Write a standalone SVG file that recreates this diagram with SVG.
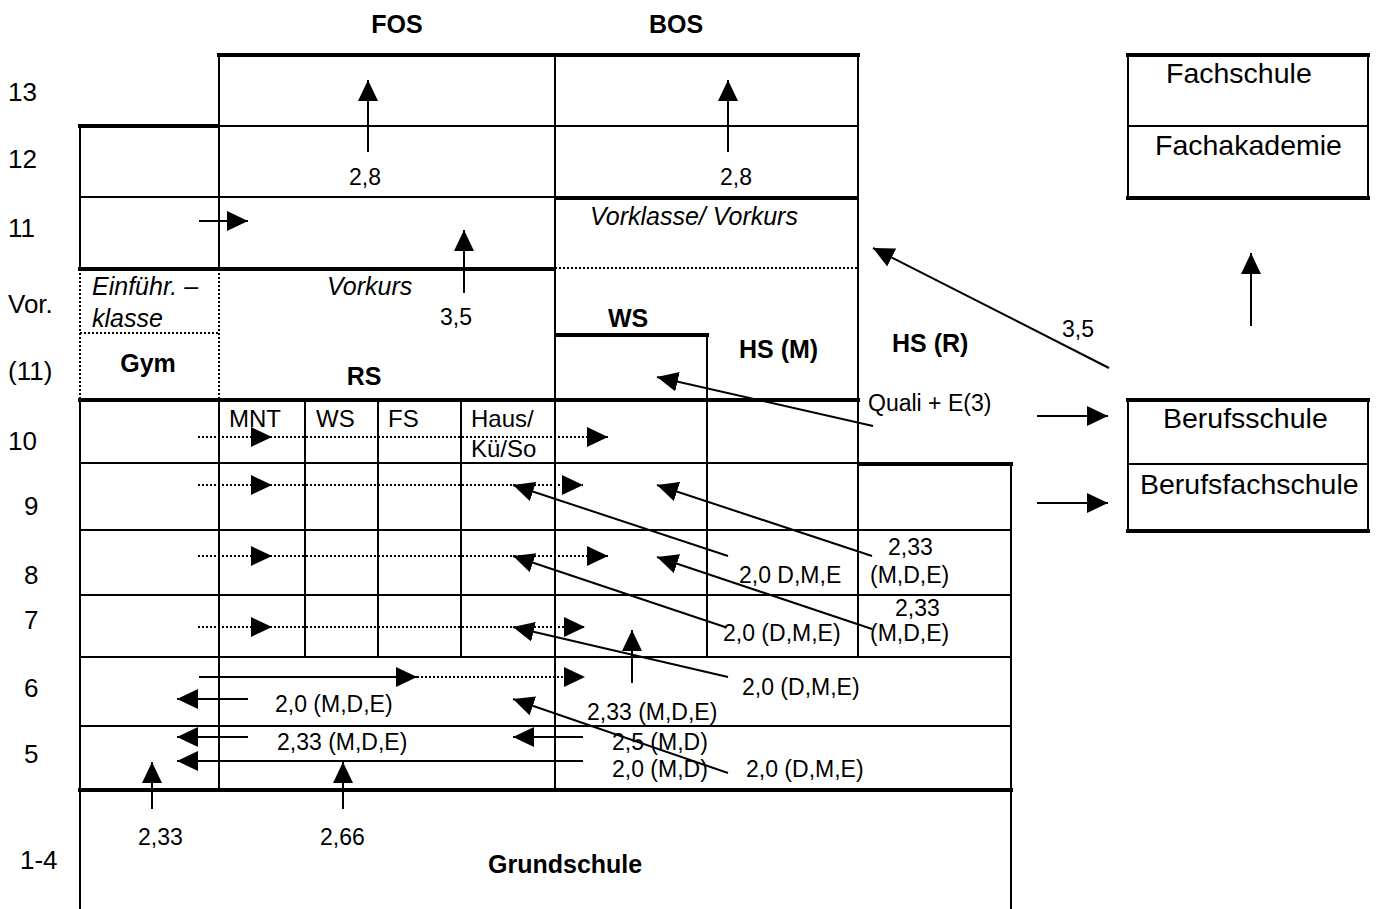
<svg xmlns="http://www.w3.org/2000/svg" width="1380" height="909" viewBox="0 0 1380 909">
<defs>
<marker id="ah" markerUnits="userSpaceOnUse" markerWidth="22" markerHeight="20" refX="21" refY="10" orient="auto" viewBox="0 0 22 20">
<path d="M0,0 L21,10 L0,20 Z" fill="#000"/>
</marker>
</defs>
<style>
text{font-family:"Liberation Sans",Arial,sans-serif;fill:#000}
.row{font-size:26px}
.lbl{font-size:23px}
.cell{font-size:24px}
.big{font-size:28.5px}
.it{font-size:25px;font-style:italic}
.b{font-size:25px;font-weight:bold}
.thin{stroke:#000;stroke-width:2;fill:none}
.thick{stroke:#000;stroke-width:4;fill:none}
.dot{stroke:#000;stroke-width:2;stroke-dasharray:2,2;fill:none}
.arr{stroke:#000;stroke-width:2;fill:none;marker-end:url(#ah)}
.arrd{stroke:#000;stroke-width:2;stroke-dasharray:2,2;fill:none;marker-mid:url(#ah);marker-end:url(#ah)}
.arrd1{stroke:#000;stroke-width:2;stroke-dasharray:2,2;fill:none;marker-end:url(#ah)}
</style>
<rect width="1380" height="909" fill="#fff"/>

<g id="grid">
<line class="thick" x1="217" y1="55" x2="860" y2="55"/>
<line class="thick" x1="78" y1="126" x2="219" y2="126"/>
<line class="thin" x1="219" y1="126" x2="858" y2="126"/>
<line class="thin" x1="80" y1="197" x2="555" y2="197"/>
<line class="thick" x1="555" y1="198" x2="858" y2="198"/>
<line class="thick" x1="78" y1="269" x2="555" y2="269"/>
<line class="dot" x1="555" y1="268" x2="858" y2="268"/>
<line class="dot" x1="80" y1="333" x2="219" y2="333"/>
<line class="thick" x1="555" y1="335" x2="709" y2="335"/>
<line class="thick" x1="78" y1="400" x2="860" y2="400"/>
<line class="thin" x1="80" y1="463" x2="858" y2="463"/>
<line class="thick" x1="858" y1="464" x2="1013" y2="464"/>
<line class="thin" x1="80" y1="530" x2="1011" y2="530"/>
<line class="thin" x1="80" y1="595" x2="1011" y2="595"/>
<line class="thin" x1="80" y1="657" x2="1011" y2="657"/>
<line class="thin" x1="80" y1="726" x2="1011" y2="726"/>
<line class="thick" x1="78" y1="790" x2="1013" y2="790"/>
<line class="thin" x1="80" y1="126" x2="80" y2="269"/>
<line class="dot" x1="80" y1="269" x2="80" y2="400"/>
<line class="thin" x1="80" y1="400" x2="80" y2="909"/>
<line class="thin" x1="219" y1="55" x2="219" y2="269"/>
<line class="dot" x1="219" y1="269" x2="219" y2="400"/>
<line class="thin" x1="219" y1="400" x2="219" y2="790"/>
<line class="thin" x1="305" y1="400" x2="305" y2="657"/>
<line class="thin" x1="378" y1="400" x2="378" y2="657"/>
<line class="thin" x1="461" y1="400" x2="461" y2="657"/>
<line class="thin" x1="555" y1="55" x2="555" y2="790"/>
<line class="thin" x1="707" y1="335" x2="707" y2="657"/>
<line class="thin" x1="858" y1="55" x2="858" y2="657"/>
<line class="thin" x1="1011" y1="463" x2="1011" y2="909"/>
</g>

<g id="row-labels">
<text class="row" x="8" y="101">13</text>
<text class="row" x="8" y="168">12</text>
<text class="row" x="8" y="237">11</text>
<text class="row" x="8" y="313">Vor.</text>
<text class="row" x="8" y="380">(11)</text>
<text class="row" x="8" y="450">10</text>
<text class="row" x="24" y="515">9</text>
<text class="row" x="24" y="584">8</text>
<text class="row" x="24" y="629">7</text>
<text class="row" x="24" y="697">6</text>
<text class="row" x="24" y="763">5</text>
<text class="row" x="20" y="869">1-4</text>
</g>

<g id="node-fos"><text class="b" x="397" y="33" text-anchor="middle">FOS</text></g>
<g id="node-bos"><text class="b" x="676" y="33" text-anchor="middle">BOS</text></g>
<g id="node-vorklasse"><text class="it" x="590" y="225">Vorklasse/ Vorkurs</text></g>
<g id="node-einfuehr">
<text class="it" x="92" y="295">Einführ. –</text>
<text class="it" x="92" y="327">klasse</text>
</g>
<g id="node-vorkurs"><text class="it" x="327" y="295">Vorkurs</text></g>
<g id="node-gym"><text class="b" x="148" y="372" text-anchor="middle">Gym</text></g>
<g id="node-rs"><text class="b" x="364" y="385" text-anchor="middle">RS</text></g>
<g id="node-ws"><text class="b" x="608" y="327">WS</text></g>
<g id="node-hsm"><text class="b" x="739" y="358">HS (M)</text></g>
<g id="node-hsr"><text class="b" x="892" y="352">HS (R)</text></g>
<g id="node-subjects">
<text class="cell" x="229" y="427">MNT</text>
<text class="cell" x="316" y="427">WS</text>
<text class="cell" x="388" y="427">FS</text>
<text class="cell" x="471" y="427">Haus/</text>
<text class="cell" x="471" y="457">Kü/So</text>
</g>
<g id="node-grundschule"><text class="b" x="488" y="873">Grundschule</text></g>

<g id="node-fachschule">
<line class="thick" x1="1126" y1="55" x2="1370" y2="55"/>
<line class="thin" x1="1128" y1="126" x2="1368" y2="126"/>
<line class="thick" x1="1126" y1="198" x2="1370" y2="198"/>
<line class="thin" x1="1128" y1="55" x2="1128" y2="198"/>
<line class="thin" x1="1368" y1="55" x2="1368" y2="198"/>
<text class="big" x="1166" y="83">Fachschule</text>
<text class="big" x="1155" y="155">Fachakademie</text>
</g>
<g id="node-berufsschule">
<line class="thick" x1="1126" y1="400" x2="1370" y2="400"/>
<line class="thin" x1="1128" y1="464" x2="1368" y2="464"/>
<line class="thick" x1="1126" y1="531" x2="1370" y2="531"/>
<line class="thin" x1="1128" y1="400" x2="1128" y2="531"/>
<line class="thin" x1="1368" y1="400" x2="1368" y2="531"/>
<text class="big" x="1163" y="428">Berufsschule</text>
<text class="big" x="1140" y="494">Berufsfachschule</text>
</g>

<g id="labels">
<text class="lbl" x="349" y="185">2,8</text>
<text class="lbl" x="720" y="185">2,8</text>
<text class="lbl" x="440" y="325">3,5</text>
<text class="lbl" x="1062" y="337">3,5</text>
<text class="lbl" x="868" y="411">Quali + E(3)</text>
<text class="lbl" x="888" y="555">2,33</text>
<text class="lbl" x="870" y="583">(M,D,E)</text>
<text class="lbl" x="739" y="583">2,0 D,M,E</text>
<text class="lbl" x="895" y="616">2,33</text>
<text class="lbl" x="870" y="641">(M,D,E)</text>
<text class="lbl" x="723" y="641">2,0 (D,M,E)</text>
<text class="lbl" x="742" y="695">2,0 (D,M,E)</text>
<text class="lbl" x="587" y="720">2,33 (M,D,E)</text>
<text class="lbl" x="275" y="712">2,0 (M,D,E)</text>
<text class="lbl" x="277" y="750">2,33 (M,D,E)</text>
<text class="lbl" x="612" y="750">2,5 (M,D)</text>
<text class="lbl" x="612" y="777">2,0 (M,D)</text>
<text class="lbl" x="746" y="777">2,0 (D,M,E)</text>
<text class="lbl" x="138" y="845">2,33</text>
<text class="lbl" x="320" y="845">2,66</text>
</g>

<g id="connectors">
<line class="arr" x1="368" y1="152" x2="368" y2="80"/>
<line class="arr" x1="728" y1="152" x2="728" y2="80"/>
<line class="arr" x1="199" y1="221" x2="248" y2="221"/>
<line class="arr" x1="464" y1="293" x2="464" y2="230"/>
<line class="arr" x1="1109" y1="368" x2="873" y2="248"/>
<line class="arr" x1="1251" y1="326" x2="1251" y2="253"/>
<line class="arr" x1="873" y1="426" x2="657" y2="377"/>
<line class="arr" x1="1037" y1="416" x2="1108" y2="416"/>
<line class="arr" x1="1037" y1="503" x2="1108" y2="503"/>
<polyline class="arrd" points="198,437 272,437 608,437"/>
<polyline class="arrd" points="198,485 272,485 583,485"/>
<polyline class="arrd" points="198,556 272,556 608,556"/>
<polyline class="arrd" points="198,627 272,627 585,627"/>
<line class="arr" x1="199" y1="677" x2="417" y2="677"/>
<line class="arrd1" x1="417" y1="677" x2="585" y2="677"/>
<line class="arr" x1="248" y1="699" x2="177" y2="699"/>
<line class="arr" x1="248" y1="737" x2="177" y2="737"/>
<line class="arr" x1="583" y1="761" x2="177" y2="761"/>
<line class="arr" x1="583" y1="737" x2="513" y2="737"/>
<line class="arr" x1="152" y1="809" x2="152" y2="762"/>
<line class="arr" x1="343" y1="809" x2="343" y2="762"/>
<line class="arr" x1="632" y1="683" x2="632" y2="630"/>
<line class="arr" x1="872" y1="556" x2="657" y2="485"/>
<line class="arr" x1="728" y1="556" x2="513" y2="485"/>
<line class="arr" x1="872" y1="629" x2="657" y2="557"/>
<line class="arr" x1="725" y1="627" x2="513" y2="556"/>
<line class="arr" x1="728" y1="677" x2="513" y2="627"/>
<line class="arr" x1="728" y1="773" x2="513" y2="699"/>
</g>
</svg>
